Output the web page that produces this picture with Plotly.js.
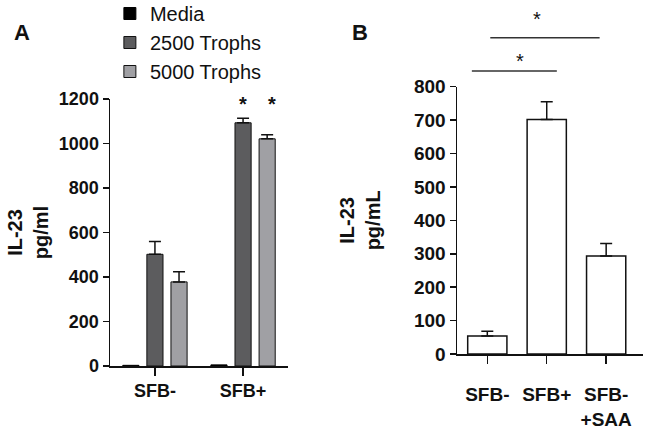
<!DOCTYPE html>
<html>
<head>
<meta charset="utf-8">
<script src="https://cdn.plot.ly/plotly-3.0.1.min.js"></script>
<style>html,body{margin:0;padding:0;background:#fff;}#chart{width:666px;height:431px;}</style>
</head>
<body>
<div id="chart"></div>
<script>
// Panel A data
const categoriesA = ['SFB-', 'SFB+'];
const mediaA = [3, 5];
const trophs2500 = [502, 1093];
const trophs2500Err = [57, 20];
const trophs5000 = [378, 1021];
const trophs5000Err = [46, 18];
const seriesNamesA = ['Media', '2500 Trophs', '5000 Trophs'];
const yTicksA = [0, 200, 400, 600, 800, 1000, 1200];

// Panel B data
const categoriesB = ['SFB-', 'SFB+', 'SFB-<br>+SAA'];
const il23B = [54, 702, 293];
const il23BErr = [14, 53, 38];
const yTicksB = [0, 100, 200, 300, 400, 500, 600, 700, 800];

const FONT = 'Liberation Sans, Arial, sans-serif';

function zeros(n) { return new Array(n).fill(0); }
function boldText(arr) { return arr.map(v => '<b>' + String(v).replace('<br>', '</b><br><b>') + '</b>'); }

const traces = [
  {
    type: 'bar', name: seriesNamesA[0], x: categoriesA, y: mediaA,
    xaxis: 'x', yaxis: 'y', legendgroup: 'a',
    marker: {color: '#000000', line: {color: '#000000', width: 1}}
  },
  {
    type: 'bar', name: seriesNamesA[1], x: categoriesA, y: trophs2500,
    xaxis: 'x', yaxis: 'y', legendgroup: 'b',
    marker: {color: '#5c5c5e', line: {color: '#111111', width: 1}},
    error_y: {type: 'data', symmetric: false, array: trophs2500Err, arrayminus: zeros(2),
              color: '#111', thickness: 1.5, width: 6}
  },
  {
    type: 'bar', name: seriesNamesA[2], x: categoriesA, y: trophs5000,
    xaxis: 'x', yaxis: 'y', legendgroup: 'c',
    marker: {color: '#a0a0a4', line: {color: '#111111', width: 1}},
    error_y: {type: 'data', symmetric: false, array: trophs5000Err, arrayminus: zeros(2),
              color: '#111', thickness: 1.5, width: 6}
  },
  {
    type: 'bar', name: 'IL-23', x: categoriesB, y: il23B, width: 0.66,
    xaxis: 'x2', yaxis: 'y2', showlegend: false,
    marker: {color: '#ffffff', line: {color: '#111111', width: 1.5}},
    error_y: {type: 'data', symmetric: false, array: il23BErr, arrayminus: zeros(3),
              color: '#111', thickness: 1.5, width: 6}
  }
];

const tickFontA = {family: FONT, size: 18, color: '#111'};
const tickFontB = {family: FONT, size: 19, color: '#111'};
const titleFont = {family: FONT, size: 20, color: '#111', weight: 'bold'};

const layout = {
  width: 666, height: 431,
  margin: {l: 0, r: 0, t: 0, b: 0, autoexpand: false},
  paper_bgcolor: '#ffffff', plot_bgcolor: '#ffffff',
  barmode: 'group', bargap: 0.18, bargroupgap: 0.33,
  showlegend: true,
  legend: {
    x: 0.165, y: 1 + 6/431, xanchor: 'left', yanchor: 'top',
    font: {family: FONT, size: 20, color: '#111'},
    traceorder: 'grouped', tracegroupgap: 0,
    bgcolor: 'rgba(0,0,0,0)'
  },
  xaxis: {
    domain: [110/666, 288/666], anchor: 'y',
    type: 'category', range: [-0.51, 1.51],
    tickvals: categoriesA, ticktext: boldText(categoriesA),
    showline: true, linecolor: '#111', linewidth: 1.5,
    ticks: 'outside', ticklen: 8, tickwidth: 1.5, tickcolor: '#111',
    tickfont: tickFontA, showgrid: false, zeroline: false
  },
  yaxis: {
    domain: [1 - 366/431, 1 - 99/431], anchor: 'x',
    range: [0, 1200], tickvals: yTicksA, ticktext: boldText(yTicksA),
    showline: true, linecolor: '#111', linewidth: 1.5,
    ticks: 'outside', ticklen: 6, tickwidth: 1.5, tickcolor: '#111',
    tickfont: tickFontA, showgrid: false, zeroline: false,
    title: {text: 'IL-23<br>pg/ml', font: titleFont, standoff: 5}
  },
  xaxis2: {
    domain: [457/666, 643/666], anchor: 'y2',
    type: 'category', range: [-0.51, 2.62],
    tickvals: categoriesB, ticktext: boldText(categoriesB),
    showline: true, linecolor: '#111', linewidth: 1.5,
    ticks: 'outside', ticklen: 8, tickwidth: 1.5, tickcolor: '#111',
    ticklabelstandoff: 15,
    tickfont: tickFontB, showgrid: false, zeroline: false
  },
  yaxis2: {
    domain: [1 - 354/431, 1 - 86.7/431], anchor: 'x2',
    range: [0, 800], tickvals: yTicksB, ticktext: boldText(yTicksB),
    showline: true, linecolor: '#111', linewidth: 1.5,
    ticks: 'outside', ticklen: 6, tickwidth: 1.5, tickcolor: '#111',
    tickfont: tickFontB, showgrid: false, zeroline: false,
    title: {text: 'IL-23<br>pg/mL', font: titleFont, standoff: 28}
  },
  shapes: [
    {type: 'line', xref: 'x2', yref: 'paper', x0: 0.05, x1: 1.89, y0: 1 - 37.7/431, y1: 1 - 37.7/431,
     line: {color: '#333', width: 1.5}},
    {type: 'line', xref: 'x2', yref: 'paper', x0: -0.26, x1: 1.17, y0: 1 - 71/431, y1: 1 - 71/431,
     line: {color: '#333', width: 1.5}}
  ],
  annotations: [
    {text: '<b>A</b>', xref: 'paper', yref: 'paper', x: 21.5/666, y: 1 - 32.5/431,
     showarrow: false, font: {family: FONT, size: 22, color: '#111'}, xanchor: 'center', yanchor: 'middle'},
    {text: '<b>B</b>', xref: 'paper', yref: 'paper', x: 360/666, y: 1 - 32.5/431,
     showarrow: false, font: {family: FONT, size: 22, color: '#111'}, xanchor: 'center', yanchor: 'middle'},
    {text: '<b>*</b>', xref: 'x', yref: 'paper', x: 1, xshift: 0, y: 1 - 104/431,
     showarrow: false, font: {family: FONT, size: 20, color: '#111'}, xanchor: 'center', yanchor: 'middle'},
    {text: '<b>*</b>', xref: 'x', yref: 'paper', x: 1, xshift: 29, y: 1 - 104/431,
     showarrow: false, font: {family: FONT, size: 20, color: '#111'}, xanchor: 'center', yanchor: 'middle'},
    {text: '*', xref: 'paper', yref: 'paper', x: 537/666, y: 1 - 19/431,
     showarrow: false, font: {family: FONT, size: 20, color: '#111'}, xanchor: 'center', yanchor: 'middle'},
    {text: '*', xref: 'paper', yref: 'paper', x: 520/666, y: 1 - 61/431,
     showarrow: false, font: {family: FONT, size: 20, color: '#111'}, xanchor: 'center', yanchor: 'middle'}
  ]
};

Plotly.newPlot('chart', traces, layout, {displayModeBar: false, staticPlot: true});
</script>
</body>
</html>
